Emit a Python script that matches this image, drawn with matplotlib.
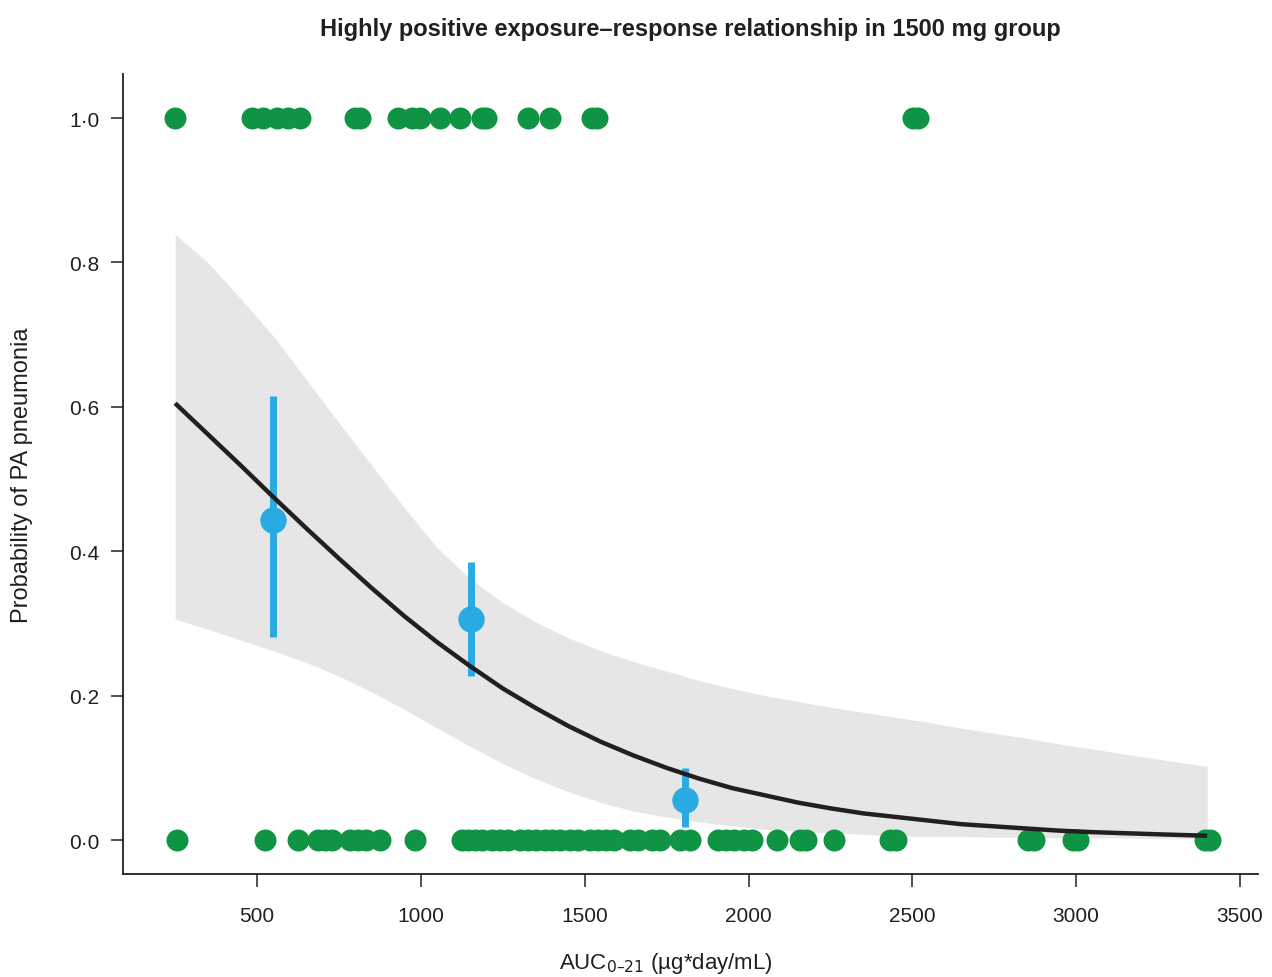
import matplotlib
matplotlib.use('Agg')
import matplotlib.pyplot as plt

plt.rcParams['font.family'] = ['Liberation Sans Narrow', 'Liberation Sans', 'DejaVu Sans']

# observed outcomes (AUC values) with event (1) / no event (0)
auc_event = [250, 484, 518, 560, 595, 631, 799, 814, 930, 972, 997, 1058, 1119,
             1186, 1199, 1327, 1394, 1522, 1537, 2502, 2517]
auc_no_event = [256, 524, 625, 686, 707, 729, 784, 808, 833, 875, 982, 1126, 1144,
                1165, 1187, 1218, 1241, 1266, 1302, 1327, 1351, 1379, 1400, 1425,
                1455, 1480, 1516, 1541, 1565, 1589, 1638, 1663, 1705, 1730, 1791,
                1822, 1907, 1931, 1956, 1986, 2011, 2087, 2157, 2175, 2261, 2432,
                2450, 2853, 2871, 2990, 3005, 3393, 3408]

# binned observed proportions with 95% CI
bin_auc = [549, 1153, 1806]
bin_prob = [0.443, 0.306, 0.055]
bin_low = [0.281, 0.227, 0.018]
bin_high = [0.615, 0.385, 0.100]

# logistic fit and confidence band
fit_auc = [250, 350, 450, 550, 650, 750, 850, 950, 1050, 1150, 1250, 1350, 1450,
           1550, 1650, 1750, 1850, 1950, 2050, 2150, 2250, 2350, 2450, 2550, 2650,
           2750, 2850, 2950, 3050, 3150, 3250, 3400]
fit_prob = [0.605, 0.562, 0.519, 0.475, 0.432, 0.390, 0.349, 0.310, 0.274, 0.241,
            0.210, 0.183, 0.158, 0.136, 0.117, 0.100, 0.085, 0.072, 0.062, 0.052,
            0.044, 0.037, 0.032, 0.027, 0.022, 0.019, 0.016, 0.013, 0.011, 0.0095,
            0.008, 0.006]
fit_low = [0.306, 0.292, 0.277, 0.262, 0.246, 0.227, 0.205, 0.181, 0.155, 0.130,
           0.106, 0.085, 0.067, 0.052, 0.040, 0.032, 0.025, 0.020, 0.015, 0.012,
           0.010, 0.008, 0.006, 0.005, 0.005, 0.004, 0.004, 0.003, 0.003, 0.003,
           0.002, 0.002]
fit_high = [0.839, 0.800, 0.750, 0.698, 0.638, 0.578, 0.519, 0.460, 0.405, 0.362,
            0.329, 0.302, 0.280, 0.262, 0.247, 0.234, 0.221, 0.210, 0.200, 0.192,
            0.184, 0.177, 0.170, 0.163, 0.155, 0.148, 0.141, 0.133, 0.126, 0.119,
            0.112, 0.102]

green = '#0f9444'
blue = '#29abe2'
ink = '#231f20'

fig = plt.figure(figsize=(12.72, 9.78), dpi=100)
ax = fig.add_axes([0.0967, 0.1053, 0.8923, 0.818])

ax.fill_between(fit_auc, fit_low, fit_high, color='#e6e6e6', linewidth=0, zorder=1)
ax.scatter(auc_event, [1.0] * len(auc_event), s=250, color=green, linewidths=0, zorder=3)
ax.scatter(auc_no_event, [0.0] * len(auc_no_event), s=250, color=green, linewidths=0, zorder=3)

err_lo = [p - l for p, l in zip(bin_prob, bin_low)]
err_hi = [h - p for p, h in zip(bin_prob, bin_high)]
ax.errorbar(bin_auc, bin_prob, yerr=[err_lo, err_hi], fmt='o', color=blue,
            markersize=18, elinewidth=5, capsize=0, zorder=4)
ax.plot(fit_auc, fit_prob, color=ink, linewidth=3.2, zorder=5,
        solid_capstyle='butt', solid_joinstyle='round')

ax.set_xlim(91, 3555)
ax.set_ylim(-0.047, 1.061)
ax.set_xticks([500, 1000, 1500, 2000, 2500, 3000, 3500])
ax.set_yticks([0.0, 0.2, 0.4, 0.6, 0.8, 1.0])
ax.set_yticklabels(['0\u00b70', '0\u00b72', '0\u00b74', '0\u00b76', '0\u00b78', '1\u00b70'])

for side in ['top', 'right']:
    ax.spines[side].set_visible(False)
for side in ['left', 'bottom']:
    ax.spines[side].set_color(ink)
    ax.spines[side].set_linewidth(1.3)
ax.tick_params(direction='out', length=9, width=1.1, color=ink,
               labelsize=15, labelcolor=ink)
ax.tick_params(axis='x', pad=14)
ax.tick_params(axis='y', pad=8)

ax.set_title('Highly positive exposure\u2013response relationship in 1500 mg group',
             fontsize=17, fontweight='bold', color=ink, pad=28)
ax.set_xlabel('AUC$_{0\u201321}$ (\u00b5g*day/mL)', fontsize=16, color=ink)
ax.xaxis.set_label_coords(0.478, -0.095)
ax.set_ylabel('Probability of PA pneumonia', fontsize=17, color=ink)
ax.yaxis.set_label_coords(-0.079, 0.5)

fig.savefig('out.png', dpi=100)
